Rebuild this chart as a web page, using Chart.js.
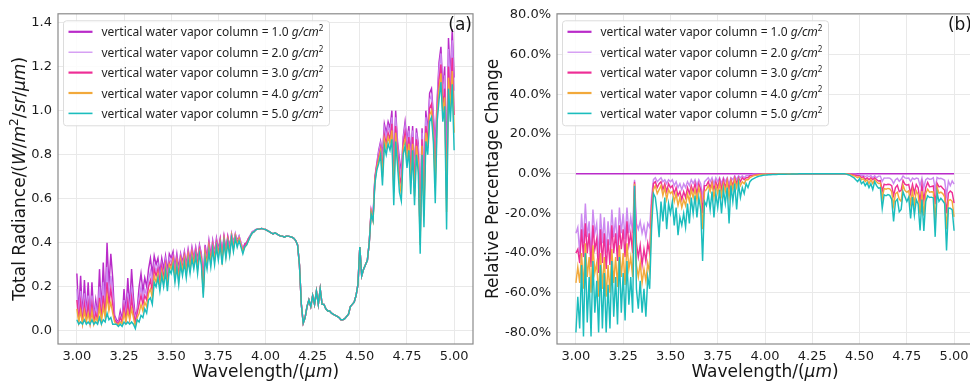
<!DOCTYPE html>
<html>
<head>
<meta charset="utf-8">
<script src="https://cdn.jsdelivr.net/npm/chart.js@4.4.0/dist/chart.umd.min.js"></script>
<style>
  html, body { margin: 0; padding: 0; background: #fff; width: 970px; height: 383px; overflow: hidden; position: relative; }
  canvas { position: absolute; top: 0; }
  #radiance { left: 0; }
  #change { left: 483px; }
</style>
</head>
<body>
<canvas id="radiance" width="483" height="383"></canvas>
<canvas id="change" width="500" height="383"></canvas>
<script>
// Spectral sampling: 3.00 – 5.00 µm every 0.01 µm (201 samples)
const waveStart = 3.0, waveStep = 0.01, waveCount = 201;
const wavelength = [];
for (let i = 0; i < waveCount; i++) wavelength.push(Math.round((waveStart + i * waveStep) * 100) / 100);

// Legend entries: vertical water vapor column (g/cm²)
const columnValues = ['1.0', '2.0', '3.0', '4.0', '5.0'];

// Tick values
const waveTicks = [3.00, 3.25, 3.50, 3.75, 4.00, 4.25, 4.50, 4.75, 5.00];
const radianceTicks = [0.0, 0.2, 0.4, 0.6, 0.8, 1.0, 1.2, 1.4];
const changeTicks = [-80, -60, -40, -20, 0, 20, 40, 60, 80];

// (a) Total radiance, W/m²/sr/µm
const radiance1 = [
  .26,.08,.25,.06,.23,.07,.22,.05,.22,.06,
  .14,.07,.28,.09,.31,.12,.40,.20,.35,.24,
  .07,.05,.04,.09,.05,.19,.08,.24,.10,.28,
  .15,.06,.10,.20,.26,.18,.24,.20,.28,.33,
  .26,.34,.30,.33,.26,.33,.28,.34,.27,.35,
  .33,.36,.29,.35,.28,.35,.31,.36,.30,.37,
  .32,.38,.33,.38,.32,.39,.35,.24,.39,.33,
  .41,.34,.41,.35,.42,.37,.42,.35,.43,.37,
  .43,.38,.44,.40,.44,.41,.43,.40,.37,.395,
  .40,.42,.435,.45,.455,.46,.462,.463,.465,.462,
  .46,.455,.45,.445,.44,.445,.44,.435,.43,.43,
  .425,.43,.43,.428,.425,.42,.41,.39,.30,.12,
  .035,.06,.11,.14,.11,.16,.12,.18,.12,.19,
  .12,.12,.10,.09,.09,.08,.075,.07,.065,.06,
  .05,.05,.055,.065,.075,.11,.12,.13,.16,.21,
  .38,.25,.28,.30,.32,.40,.55,.52,.70,.76,
  .82,.86,.80,.94,.90,.95,.92,1.00,.75,1.00,
  .86,.78,.72,.88,.95,.86,.93,.80,.93,.72,
  .92,.85,.49,.92,.66,1.00,.90,1.08,1.10,.98,
  .85,1.05,1.22,1.29,1.10,1.20,.75,1.33,1.15,1.37,
  1.15];
const radiance2 = [
  .19,.06,.18,.05,.17,.06,.16,.04,.16,.05,
  .11,.06,.20,.07,.22,.09,.29,.15,.25,.17,
  .06,.04,.04,.07,.04,.14,.06,.17,.08,.20,
  .11,.05,.09,.15,.20,.14,.19,.16,.23,.27,
  .21,.30,.27,.30,.23,.30,.25,.32,.24,.33,
  .31,.34,.27,.33,.26,.34,.29,.35,.28,.36,
  .30,.37,.32,.37,.30,.38,.34,.21,.37,.32,
  .40,.33,.40,.34,.41,.36,.41,.34,.42,.36,
  .42,.37,.44,.39,.44,.40,.43,.40,.37,.39,
  .40,.42,.435,.45,.455,.46,.462,.463,.465,.462,
  .46,.455,.45,.445,.44,.445,.44,.435,.43,.43,
  .425,.43,.43,.428,.425,.42,.41,.39,.30,.12,
  .035,.06,.11,.14,.11,.16,.12,.18,.12,.19,
  .12,.12,.10,.09,.09,.08,.075,.07,.065,.06,
  .05,.05,.055,.065,.075,.11,.12,.13,.16,.21,
  .38,.25,.28,.30,.32,.40,.55,.51,.69,.75,
  .81,.85,.77,.92,.88,.93,.90,.97,.71,.97,
  .84,.75,.70,.87,.93,.84,.91,.77,.91,.70,
  .90,.83,.47,.90,.63,.97,.88,1.05,1.07,.96,
  .80,1.03,1.19,1.26,1.07,1.16,.67,1.28,1.11,1.32,
  1.09];
const radiance3 = [
  .14,.05,.13,.04,.12,.05,.12,.04,.12,.04,
  .08,.05,.15,.06,.16,.08,.22,.12,.19,.12,
  .05,.04,.03,.06,.04,.11,.05,.13,.06,.15,
  .08,.04,.08,.12,.16,.12,.16,.14,.20,.23,
  .18,.28,.25,.28,.22,.29,.24,.30,.22,.31,
  .29,.33,.25,.32,.25,.33,.28,.34,.27,.35,
  .29,.36,.31,.36,.29,.37,.33,.19,.36,.31,
  .39,.32,.39,.33,.40,.35,.41,.33,.42,.35,
  .42,.36,.43,.38,.43,.40,.42,.39,.36,.39,
  .40,.42,.43,.445,.45,.46,.462,.463,.465,.462,
  .46,.455,.45,.445,.44,.445,.44,.435,.43,.43,
  .425,.43,.43,.428,.425,.42,.41,.39,.30,.12,
  .035,.06,.11,.14,.11,.16,.12,.18,.12,.19,
  .12,.12,.10,.09,.09,.08,.075,.07,.065,.06,
  .05,.05,.055,.065,.075,.11,.12,.13,.16,.21,
  .38,.25,.28,.30,.32,.40,.54,.51,.69,.75,
  .79,.83,.73,.89,.85,.90,.87,.94,.67,.93,
  .81,.71,.66,.85,.90,.81,.88,.72,.88,.65,
  .87,.79,.42,.87,.57,.93,.86,1.01,1.03,.92,
  .72,1.00,1.14,1.21,1.02,1.10,.60,1.20,1.05,1.24,
  .98];
const radiance4 = [
  .10,.04,.09,.03,.09,.04,.08,.03,.09,.03,
  .06,.04,.11,.04,.11,.06,.16,.09,.13,.08,
  .04,.03,.03,.04,.03,.08,.04,.09,.05,.10,
  .06,.02,.06,.08,.12,.09,.13,.11,.17,.19,
  .15,.25,.22,.26,.20,.27,.22,.29,.20,.30,
  .28,.32,.24,.31,.23,.32,.27,.33,.26,.34,
  .28,.35,.30,.35,.28,.36,.32,.17,.35,.30,
  .38,.31,.38,.32,.39,.34,.40,.32,.41,.34,
  .41,.35,.43,.37,.43,.39,.42,.39,.36,.38,
  .39,.41,.43,.445,.45,.46,.462,.463,.465,.462,
  .46,.455,.45,.445,.44,.445,.44,.435,.43,.43,
  .425,.43,.43,.428,.425,.42,.41,.39,.30,.12,
  .035,.06,.11,.14,.11,.16,.12,.18,.12,.19,
  .12,.12,.10,.09,.09,.08,.075,.07,.065,.06,
  .05,.05,.055,.065,.075,.11,.12,.13,.16,.21,
  .38,.25,.28,.30,.32,.40,.54,.50,.68,.74,
  .78,.82,.70,.87,.83,.88,.85,.91,.63,.90,
  .78,.68,.62,.83,.87,.78,.85,.68,.85,.61,
  .84,.76,.39,.84,.52,.90,.83,.98,1.00,.89,
  .65,.98,1.10,1.17,.99,1.06,.54,1.15,1.00,1.18,
  .90];
const radiance5 = [
  .05,.03,.04,.03,.05,.03,.04,.03,.05,.03,
  .04,.03,.06,.03,.05,.04,.08,.05,.06,.03,
  .03,.03,.02,.03,.02,.04,.03,.04,.03,.04,
  .03,.01,.05,.04,.07,.06,.10,.08,.14,.15,
  .12,.22,.20,.24,.18,.25,.20,.27,.18,.28,
  .26,.30,.22,.29,.21,.30,.25,.31,.24,.32,
  .26,.33,.28,.34,.26,.35,.30,.15,.33,.28,
  .36,.29,.37,.30,.38,.32,.39,.30,.40,.33,
  .40,.34,.42,.36,.42,.38,.41,.38,.35,.38,
  .39,.41,.43,.445,.45,.46,.462,.463,.465,.462,
  .46,.455,.45,.445,.44,.445,.44,.435,.43,.43,
  .425,.43,.43,.428,.425,.42,.41,.39,.30,.12,
  .035,.06,.11,.14,.11,.16,.12,.18,.12,.19,
  .12,.12,.10,.09,.09,.08,.075,.07,.065,.06,
  .05,.05,.055,.065,.075,.11,.12,.13,.16,.21,
  .38,.25,.28,.30,.32,.40,.53,.50,.67,.73,
  .76,.80,.66,.84,.80,.85,.82,.87,.57,.86,
  .75,.63,.59,.80,.84,.74,.82,.62,.82,.57,
  .80,.72,.35,.80,.47,.86,.80,.95,.97,.86,
  .58,.95,1.05,1.13,.95,1.02,.46,1.10,.95,1.12,
  .82];

// (b) Relative percentage change against the 1.0 g/cm² case
const change1 = [
  0,0,0,0,0,0,0,0,0,0, 0,0,0,0,0,0,0,0,0,0,
  0,0,0,0,0,0,0,0,0,0, 0,0,0,0,0,0,0,0,0,0,
  0,0,0,0,0,0,0,0,0,0, 0,0,0,0,0,0,0,0,0,0,
  0,0,0,0,0,0,0,0,0,0, 0,0,0,0,0,0,0,0,0,0,
  0,0,0,0,0,0,0,0,0,0, 0,0,0,0,0,0,0,0,0,0,
  0,0,0,0,0,0,0,0,0,0, 0,0,0,0,0,0,0,0,0,0,
  0,0,0,0,0,0,0,0,0,0, 0,0,0,0,0,0,0,0,0,0,
  0,0,0,0,0,0,0,0,0,0, 0,0,0,0,0,0,0,0,0,0,
  0,0,0,0,0,0,0,0,0,0, 0,0,0,0,0,0,0,0,0,0,
  0,0,0,0,0,0,0,0,0,0, 0,0,0,0,0,0,0,0,0,0,
  0];
const change2 = [
  -30,-27,-40,-20,-35,-15,-32,-24,-42,-18,
  -30,-25,-42,-20,-35,-22,-40,-24,-36,-18,
  -32,-22,-38,-17,-30,-20,-33,-17,-30,-22,
  -30,-3,-25,-28,-24,-30,-26,-32,-25,-27,
  -12,-3,-2,-4,-3,-2,-4,-3,-5,-3,
  -4,-3,-6,-4,-7,-5,-8,-5,-7,-4,
  -6,-3,-5,-3,-6,-3,-5,-12,-4,-3,
  -2,-4,-2,-5,-2,-4,-2,-5,-2,-4,
  -2,-5,-2,-3,-1,-3,-1,-2,-1,-2,
  -1,-1,-0.5,-0.5,-0.3,-0.3,-0.2,-0.2,-0.2,-0.1,
  -0.1,-0.1,-0.1,-0.1,-0.1,-0.1,-0.1,-0.1,-0.1,-0.1,
  -0.1,-0.1,-0.1,-0.05,-0.05,-0.05,-0.05,-0.05,0,0,
  0,0,0,0,0,0,0,0,0,0,
  0,0,0,0,0,0,0,0,0,0,
  0,0,0,0,0,-0.1,-0.2,-0.3,-0.3,-0.5,
  -0.4,-1,-0.8,-1.5,-1,-1.5,-1,-2,-1,-2,
  -1.2,-1.2,-3.8,-2.1,-2.2,-2.1,-2.2,-3,-5,-3,
  -2.3,-3.8,-2.8,-1.1,-2.1,-2.3,-2.2,-3.8,-2.2,-2.8,
  -2.2,-2.4,-6,-2.2,-7,-3,-2.2,-2.8,-2.7,-2,
  -8,-1.9,-2.5,-2.3,-2.7,-3.3,-11,-3.8,-6,-3.6,
  -5.2];
const change3 = [
  -40,-38,-45,-28,-42,-25,-40,-30,-47,-26,
  -38,-33,-50,-28,-45,-30,-48,-33,-46,-26,
  -40,-30,-44,-26,-38,-28,-42,-24,-36,-30,
  -40,-4,-35,-42,-36,-46,-38,-44,-35,-40,
  -16,-5,-4,-7,-5,-4,-8,-5,-9,-5,
  -7,-6,-10,-7,-11,-9,-13,-9,-12,-7,
  -10,-6,-9,-5,-10,-5,-8,-20,-6,-6,
  -4,-7,-4,-8,-4,-7,-3,-8,-3,-7,
  -3,-8,-3,-6,-2,-5,-2,-4,-2,-3,
  -2,-2,-1,-1,-0.7,-0.5,-0.4,-0.3,-0.3,-0.2,
  -0.2,-0.2,-0.2,-0.1,-0.1,-0.1,-0.1,-0.1,-0.1,-0.1,
  -0.1,-0.1,-0.1,-0.1,-0.1,-0.05,-0.05,-0.05,0,0,
  0,0,0,0,0,0,0,0,0,0,
  0,0,0,0,0,0,0,0,0,0,
  0,0,0,0,-0.1,-0.2,-0.4,-0.6,-0.8,-1,
  -1,-2,-1.5,-3,-2,-3,-2,-3,-2,-3,
  -3.7,-3.5,-8.8,-5.3,-5.6,-5.3,-5.4,-6,-11,-7,
  -5.8,-9,-8.3,-3.4,-5.3,-5.8,-5.4,-10,-5.4,-9.7,
  -5.4,-7.1,-14.3,-5.4,-13.6,-7,-4.4,-6.5,-6.4,-6.1,
  -15.3,-4.8,-6.6,-6.2,-7.3,-8.3,-20,-9.8,-8.7,-9.5,
  -14.8];
const change4 = [
  -55,-47,-55,-40,-58,-35,-52,-42,-60,-36,
  -50,-45,-62,-40,-58,-42,-62,-46,-60,-38,
  -55,-42,-57,-36,-52,-40,-56,-35,-48,-42,
  -52,-5,-46,-52,-45,-55,-48,-54,-45,-50,
  -20,-8,-6,-10,-8,-6,-11,-7,-13,-8,
  -10,-9,-14,-10,-16,-12,-17,-13,-16,-10,
  -14,-8,-12,-8,-13,-7,-11,-28,-9,-8,
  -6,-9,-5,-12,-6,-10,-5,-11,-5,-9,
  -4,-12,-4,-8,-3,-7,-3,-6,-4,-5,
  -3,-3,-2,-1.5,-1,-0.8,-0.6,-0.5,-0.4,-0.3,
  -0.3,-0.3,-0.2,-0.2,-0.2,-0.2,-0.15,-0.15,-0.15,-0.15,
  -0.15,-0.1,-0.1,-0.1,-0.1,-0.1,-0.05,-0.05,0,0,
  0,0,0,0,0,0,0,0,0,0,
  0,0,0,0,0,0,0,0,0,0,
  0,0,0,0,-0.2,-0.4,-0.7,-1,-1.5,-2,
  -1.5,-3,-2.5,-4,-3,-5,-3,-5,-3,-4,
  -4.9,-4.7,-12.5,-7.4,-7.8,-7.4,-7.6,-9,-16,-10,
  -9.3,-12.8,-13.9,-5.7,-8.4,-9.3,-8.6,-15,-8.6,-15.3,
  -8.7,-10.6,-20.4,-8.7,-21.2,-10,-7.8,-9.3,-9.1,-9.2,
  -23.5,-6.7,-9.8,-9.3,-10,-11.7,-28,-13.5,-13,-13.9,
  -21.7];
const change5 = [
  -80,-62,-78,-46,-82,-40,-75,-52,-82,-44,
  -70,-54,-80,-46,-78,-50,-80,-56,-78,-44,
  -72,-52,-76,-42,-70,-50,-74,-44,-66,-52,
  -70,-6,-58,-68,-54,-70,-58,-72,-52,-58,
  -28,-10,-12,-20,-32,-14,-24,-12,-28,-15,
  -20,-14,-26,-17,-31,-22,-26,-20,-27,-15,
  -25,-12,-20,-11,-22,-12,-18,-44,-14,-16,
  -10,-18,-9,-22,-10,-17,-8,-20,-8,-15,
  -7,-25,-6,-14,-5,-18,-5,-12,-7,-10,
  -5,-7,-4,-3,-2.5,-2,-1.5,-1.2,-1,-0.8,
  -0.7,-0.6,-0.5,-0.5,-0.4,-0.4,-0.35,-0.3,-0.3,-0.3,
  -0.25,-0.25,-0.2,-0.2,-0.15,-0.15,-0.1,-0.1,-0.05,0,
  0,0,0,0,0,0,0,0,0,0,
  0,0,0,0,0,0,0,0,0,0,
  0,0,0,-0.2,-0.5,-0.8,-1.5,-2,-3,-4,
  -2.5,-5,-4,-6,-4.5,-7,-5,-8,-4,-6,
  -7.3,-7,-17.5,-10.6,-11.1,-10.5,-10.9,-13,-24,-14,
  -12.8,-19.2,-18,-9.1,-11.6,-14,-11.8,-22.5,-11.8,-20.8,
  -13,-15.3,-28.6,-13,-28.8,-14,-11.1,-12,-11.8,-12.2,
  -31.8,-9.5,-13.9,-12.4,-13.6,-15,-38.7,-17.3,-17.4,-18.2,
  -28.7];

const seriesColors = ['#b92bc9', '#cc8af0', '#ee2e96', '#f2a93b', '#1bbdbd'];
const legendLineWidths = [2.2, 1.2, 2.2, 2.2, 1.6];

function pairs(values) {
  return wavelength.map((w, i) => ({ x: w, y: values[i] }));
}

function makeDatasets(list) {
  return list.map((vals, i) => ({
    label: 'vertical water vapor column = ' + columnValues[i],
    data: pairs(vals),
    borderColor: seriesColors[i],
    borderWidth: 1.45,
    pointRadius: 0,
    tension: 0,
    fill: false,
    order: list.length - 1 - i
  }));
}

const FONT = '"DejaVu Sans", "Liberation Sans", sans-serif';
const LEGEND_FONT = '"Noto Sans", "Open Sans", sans-serif';

// Draw a run of text pieces (plain / italic / superscript) on one baseline
function drawRich(ctx, pieces, x, y, size, family, align) {
  const fontOf = p => (p.it ? 'italic ' : '') + (p.sup ? Math.round(size * 0.68) : size) + 'px ' + family;
  let total = 0;
  const widths = pieces.map(p => { ctx.font = fontOf(p); const w = ctx.measureText(p.t).width; total += w; return w; });
  let cx = align === 'center' ? x - total / 2 : (align === 'right' ? x - total : x);
  ctx.textAlign = 'left';
  ctx.textBaseline = 'alphabetic';
  pieces.forEach((p, i) => {
    ctx.font = fontOf(p);
    ctx.fillText(p.t, cx, p.sup ? y - size * 0.42 : y);
    cx += widths[i];
  });
}

const panelDecor = {
  id: 'panelDecor',
  afterDraw(chart, args, o) {
    const { ctx, chartArea: a } = chart;
    ctx.save();
    // axes frame
    ctx.strokeStyle = '#8a8a8a';
    ctx.lineWidth = 1.2;
    ctx.strokeRect(a.left, a.top, a.right - a.left, a.bottom - a.top);

    // panel tag
    ctx.fillStyle = '#151515';
    ctx.font = '17px ' + FONT;
    ctx.textAlign = 'right';
    ctx.textBaseline = 'middle';
    ctx.fillText(o.tag, a.right - 1, a.top + 12);

    // x axis title
    ctx.fillStyle = '#151515';
    drawRich(ctx, o.xTitle, (a.left + a.right) / 2, 377, 17, FONT, 'center');

    // y axis title (rotated)
    ctx.save();
    ctx.translate(o.yTitleX, (a.top + a.bottom) / 2);
    ctx.rotate(-Math.PI / 2);
    drawRich(ctx, o.yTitle, 0, 6, 17, FONT, 'center');
    ctx.restore();

    // legend
    const lx = a.left + 5.5, ly = a.top + 7, lw = 266, lh = 105;
    ctx.fillStyle = 'rgba(255,255,255,0.85)';
    ctx.strokeStyle = '#dcdcdc';
    ctx.lineWidth = 1;
    ctx.beginPath();
    ctx.roundRect(lx, ly, lw, lh, 3);
    ctx.fill();
    ctx.stroke();
    chart.data.datasets.forEach((ds, i) => {
      const ry = ly + 11 + i * 20.4;
      ctx.strokeStyle = seriesColors[i];
      ctx.lineWidth = legendLineWidths[i];
      ctx.beginPath();
      ctx.moveTo(lx + 5, ry);
      ctx.lineTo(lx + 29, ry);
      ctx.stroke();
      ctx.fillStyle = '#1e1e1e';
      drawRich(ctx, [
        { t: ds.label + ' ' },
        { t: 'g/cm', it: true },
        { t: '2', sup: true }
      ], lx + 38, ry + 4.5, 12, LEGEND_FONT, 'left');
    });
    ctx.restore();
  }
};

function makeChart(id, datasets, cfg) {
  return new Chart(document.getElementById(id), {
    type: 'line',
    data: { datasets },
    options: {
      responsive: false,
      animation: false,
      events: [],
      layout: { padding: { top: 10, right: 10, left: 0, bottom: 0 } },
      plugins: {
        legend: { display: false },
        tooltip: { enabled: false },
        panelDecor: cfg.decor
      },
      scales: {
        x: {
          type: 'linear',
          min: 2.9,
          max: 5.1,
          afterBuildTicks: s => { s.ticks = waveTicks.map(v => ({ value: v })); },
          afterFit: s => { s.height = 39; },
          grid: { color: '#e9e9e9', lineWidth: 1, drawTicks: false },
          border: { display: false },
          ticks: {
            padding: 5,
            color: '#1c1c1c',
            font: { family: FONT, size: 13 },
            maxRotation: 0,
            autoSkip: false,
            callback: v => v.toFixed(2)
          }
        },
        y: {
          type: 'linear',
          min: cfg.yMin,
          max: cfg.yMax,
          afterBuildTicks: s => { s.ticks = cfg.yTicks.map(v => ({ value: v })); },
          afterFit: s => { s.width = cfg.yWidth; },
          grid: { color: '#e9e9e9', lineWidth: 1, drawTicks: false },
          border: { display: false },
          ticks: {
            padding: 6,
            color: '#1c1c1c',
            font: { family: FONT, size: 13 },
            autoSkip: false,
            callback: cfg.yFormat
          }
        }
      }
    },
    plugins: [panelDecor]
  });
}

makeChart('radiance', makeDatasets([radiance1, radiance2, radiance3, radiance4, radiance5]), {
  yMin: -0.06, yMax: 1.44, yTicks: radianceTicks, yWidth: 58,
  yFormat: v => v.toFixed(1),
  decor: {
    tag: '(a)',
    yTitleX: 19,
    xTitle: [{ t: 'Wavelength/(' }, { t: 'μm', it: true }, { t: ')' }],
    yTitle: [{ t: 'Total Radiance/(' }, { t: 'W', it: true }, { t: '/' }, { t: 'm', it: true },
             { t: '2', sup: true }, { t: '/' }, { t: 'sr', it: true }, { t: '/' }, { t: 'μm', it: true }, { t: ')' }]
  }
});

makeChart('change', makeDatasets([change1, change2, change3, change4, change5]), {
  yMin: -85.8, yMax: 80.6, yTicks: changeTicks, yWidth: 74,
  yFormat: v => v.toFixed(1) + '%',
  decor: {
    tag: '(b)',
    yTitleX: 9,
    xTitle: [{ t: 'Wavelength/(' }, { t: 'μm', it: true }, { t: ')' }],
    yTitle: [{ t: 'Relative Percentage Change' }]
  }
});
</script>
</body>
</html>
